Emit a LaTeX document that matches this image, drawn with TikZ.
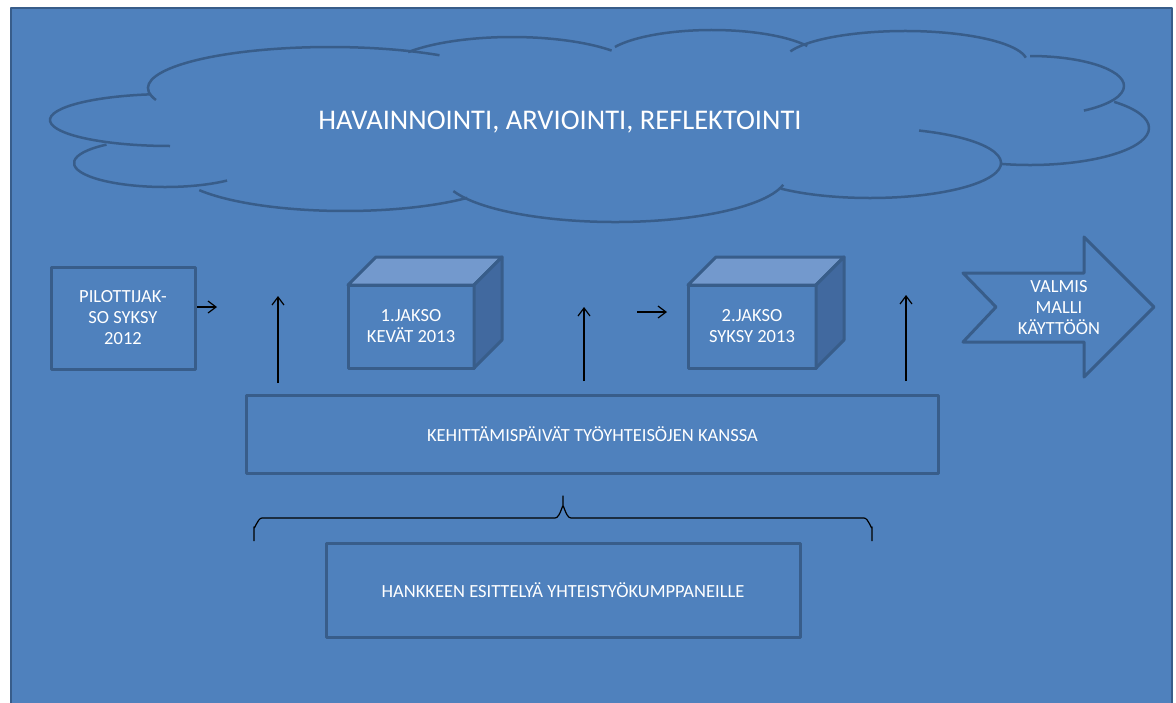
\documentclass[tikz,border=0pt]{standalone}
\usepackage{fontspec}
\setmainfont{Carlito}
\usetikzlibrary{arrows.meta}
\definecolor{bgblue}{HTML}{4F81BD}
\definecolor{edgeblue}{HTML}{385D8A}
\definecolor{topblue}{HTML}{7399CD}
\definecolor{sideblue}{HTML}{41699F}
\begin{document}
\begin{tikzpicture}[x=1pt,y=-1pt,line join=round]

	\tikzstyle{b-node}=[draw=edgeblue,line width=3pt,fill=bgblue,text=white,align=center,inner sep=0pt,outer sep=0pt,font=\fontsize{18.5}{21}\selectfont]
	\tikzstyle{b-top}=[draw=edgeblue,line width=3pt,fill=topblue]
	\tikzstyle{b-side}=[draw=edgeblue,line width=3pt,fill=sideblue]
	\tikzstyle{c-line}=[draw=edgeblue,line width=2.5pt]
	\tikzstyle{k-arrow}=[black,line width=1.2pt,-{Straight Barb[length=8pt,width=12pt]}]
	% background
	\fill[white] (0,0) rectangle (1176,702);
	\useasboundingbox (0,0) rectangle (1176,702);
	\draw[draw=edgeblue,line width=2pt,fill=bgblue] (11,8) rectangle (1172,712);

	% cloud
	\foreach \cx/\cy/\rx/\ry/\ta/\tb in {170/120/120/26/261/90, 165/163/91/24/230/47,
		330/88/182/41/163/307, 512/75/130/38/217/320, 712/62/110/32/208/330,
		905/62/122/31/200/352, 1030/86/94/30/270/415, 1030/128/119/37/-45/104,
		870/163/131/35/-68/133, 615/175/172/47/12/160, 345/168/170/43/149/44}
		\draw[c-line] ({\cx+\rx*cos(\ta)},{\cy+\ry*sin(\ta)}) arc[start angle=\ta,end angle=\tb,x radius=\rx,y radius=\ry];
	\node[text=white,font=\fontsize{28.5}{32}\selectfont] (title) at (560,122) {HAVAINNOINTI, ARVIOINTI, REFLEKTOINTI};

	% periods
	\node[b-node,minimum width=144,minimum height=102] (pilot) at (123,318) {PILOTTIJAK-\\SO SYKSY\\2012};
	\node[b-node,minimum width=126,minimum height=83] (jakso1) at (411,326.5) {1.JAKSO\\KEVÄT 2013};
	\draw[b-top] (jakso1.north west) -- ++(28,-28) -- ++(126,0) -- (jakso1.north east) -- cycle;
	\draw[b-side] (jakso1.north east) -- ++(28,-28) -- ++(0,83) -- (jakso1.south east) -- cycle;
	\node[b-node,minimum width=128,minimum height=83] (jakso2) at (752,326.5) {2.JAKSO\\SYKSY 2013};
	\draw[b-top] (jakso2.north west) -- ++(28,-28) -- ++(128,0) -- (jakso2.north east) -- cycle;
	\draw[b-side] (jakso2.north east) -- ++(28,-28) -- ++(0,83) -- (jakso2.south east) -- cycle;

	% result
	\draw[c-line,line width=3pt] (963,273) -- (1084,273) -- (1084,237) -- (1154,307) -- (1084,377) -- (1084,342) -- (963,342) -- (996,307) -- cycle;
	\node[text=white,align=center,font=\fontsize{18.5}{21}\selectfont] (valmis) at (1059,308) {VALMIS\\MALLI\\KÄYTTÖÖN};

	% development days
	\node[b-node,minimum width=692,minimum height=78] (kehit) at (592.5,434) {KEHITTÄMISPÄIVÄT TYÖYHTEISÖJEN KANSSA};
	\node[b-node,minimum width=474,minimum height=94] (hanke) at (563,590) {HANKKEEN ESITTELYÄ YHTEISTYÖKUMPPANEILLE};

	% arrows
	\coordinate (r1a) at (197,307);
	\coordinate (r1b) at (217,307);
	\coordinate (r2a) at (637,312);
	\coordinate (r2b) at (667,312);
	\coordinate (u1a) at (278,383);
	\coordinate (u1b) at (278,296);
	\coordinate (u2a) at (584,381);
	\coordinate (u2b) at (584,307);
	\coordinate (u3a) at (906,381);
	\coordinate (u3b) at (906,295);
	\draw[k-arrow] (r1a) -- (r1b);
	\draw[k-arrow] (r2a) -- (r2b);
	\draw[k-arrow] (u1a) -- (u1b);
	\draw[k-arrow] (u2a) -- (u2b);
	\draw[k-arrow] (u3a) -- (u3b);

	% brace
	\draw[black,line width=1.2pt] (254,541) -- (254,527) to[out=-90,in=180] (262,518) -- (555,518) to[out=0,in=90] (563,507) -- (563,496)
		-- (563,507) to[out=90,in=180] (571,518) -- (864,518) to[out=0,in=-90] (872,527) -- (872,541);
\end{tikzpicture}
\end{document}
